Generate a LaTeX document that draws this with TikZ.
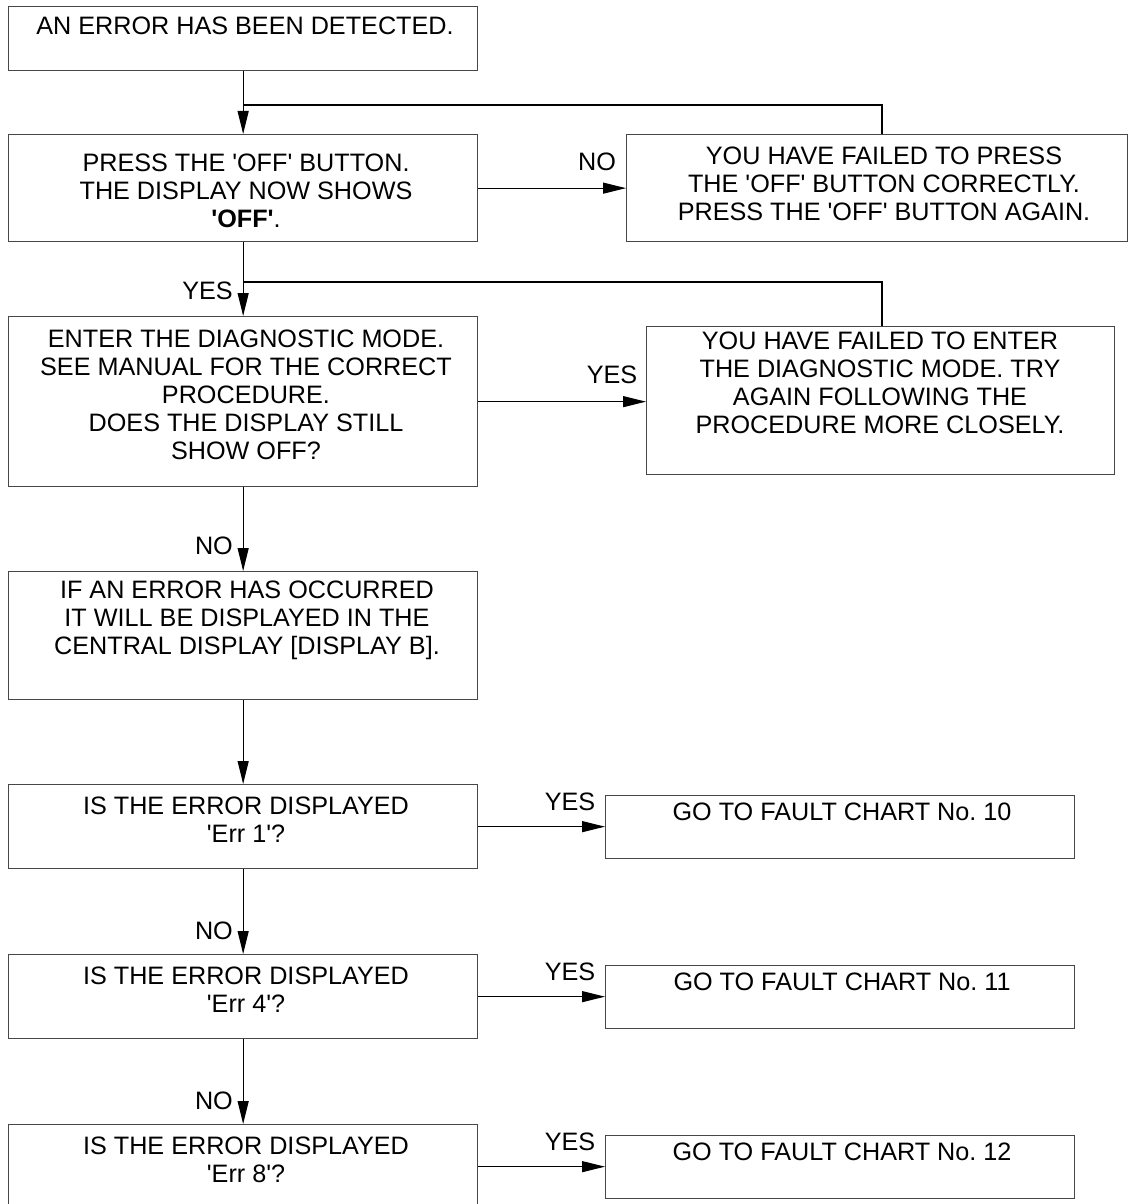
\documentclass[tikz,border=0pt]{standalone}
\usepackage{fontspec}
\newfontfamily\arialf{Liberation Sans}
\usetikzlibrary{arrows.meta,calc}
\frenchspacing
\begin{document}
\begin{tikzpicture}[x=1pt,y=-1pt,
  box/.style={draw=black!72, line width=1.3pt, rectangle, inner sep=0pt, anchor=north west},
  txt/.style={font=\arialf\fontsize{25.2}{28}\selectfont, align=center, inner sep=0pt},
  lbl/.style={font=\arialf\fontsize{25.2}{28}\selectfont, inner sep=0pt},
  conn/.style={line width=1.1pt, draw=black},
  arr/.style={conn, -{Triangle[length=23pt,width=11pt]}},
]
\useasboundingbox[fill=white] (0,0) rectangle (1130,1204);

% boxes
\node[box, minimum width=469pt, minimum height=64pt]  (A) at (8,6) {};
\node[box, minimum width=469pt, minimum height=107pt] (B) at (8,134) {};
\node[box, minimum width=501pt, minimum height=107pt] (C) at (626,134) {};
\node[box, minimum width=469pt, minimum height=170pt] (D) at (8,316) {};
\node[box, minimum width=468pt, minimum height=148pt] (E) at (646,326) {};
\node[box, minimum width=469pt, minimum height=128pt] (F) at (8,571) {};
\node[box, minimum width=469pt, minimum height=84pt]  (G) at (8,784) {};
\node[box, minimum width=469pt, minimum height=63pt]  (H) at (605,795) {};
\node[box, minimum width=469pt, minimum height=84pt]  (I) at (8,954) {};
\node[box, minimum width=469pt, minimum height=63pt]  (J) at (605,965) {};
\node[box, minimum width=469pt, minimum height=84pt]  (K) at (8,1124) {};
\node[box, minimum width=469pt, minimum height=63pt]  (L) at (605,1135) {};

% texts
\node[txt] (At) at (245,26) {AN ERROR HAS BEEN DETECTED.};
\node[txt] (Bt) at (246,191) {PRESS THE 'OFF' BUTTON.\\THE DISPLAY NOW SHOWS\\\textbf{'OFF'}.};
\node[txt] (Ct) at (884,184) {YOU HAVE FAILED TO PRESS\\THE 'OFF' BUTTON CORRECTLY.\\PRESS THE 'OFF' BUTTON AGAIN.};
\node[txt] (Dt) at (246,395) {ENTER THE DIAGNOSTIC MODE.\\SEE MANUAL FOR THE CORRECT\\PROCEDURE.\\DOES THE DISPLAY STILL\\SHOW OFF?};
\node[txt] (Et) at (880,383) {YOU HAVE FAILED TO ENTER\\THE DIAGNOSTIC MODE. TRY\\AGAIN FOLLOWING THE\\PROCEDURE MORE CLOSELY.};
\node[txt] (Ft) at (247,620) {IF AN ERROR HAS OCCURRED\\IT WILL BE DISPLAYED IN THE\\CENTRAL DISPLAY [DISPLAY B].};
\node[txt] (Gt) at (246,820) {IS THE ERROR DISPLAYED\\'Err 1'?};
\node[txt] (Ht) at (842,812) {GO TO FAULT CHART No. 10};
\node[txt] (It) at (246,990) {IS THE ERROR DISPLAYED\\'Err 4'?};
\node[txt] (Jt) at (842,982) {GO TO FAULT CHART No. 11};
\node[txt] (Kt) at (246,1160) {IS THE ERROR DISPLAYED\\'Err 8'?};
\node[txt] (Lt) at (842,1152) {GO TO FAULT CHART No. 12};

% connectors
\coordinate (loopx) at (882,0);
\coordinate (j1) at (242.5,105);
\coordinate (j2) at (242.5,282);
\draw[arr] (A.south) -- (B.north);
\draw[conn] (C.north -| loopx) |- (j1);
\draw[arr] (B.east) -- (B.east -| C.west);
\draw[arr] (B.south) -- (D.north);
\draw[conn] (E.north -| loopx) |- (j2);
\draw[arr] (D.east) -- (D.east -| E.west);
\draw[arr] (D.south) -- (F.north);
\draw[arr] (F.south) -- (G.north);
\draw[arr] (G.east) -- (G.east -| H.west);
\draw[arr] (G.south) -- (I.north);
\draw[arr] (I.east) -- (I.east -| J.west);
\draw[arr] (I.south) -- (K.north);
\draw[arr] (K.east) -- (K.east -| L.west);

% labels
\node[lbl] (l1) at (597,162) {NO};
\node[lbl, anchor=east] (l2) at (233,291) {YES};
\node[lbl] (l3) at (612,375) {YES};
\node[lbl, anchor=east] (l4) at (233,546) {NO};
\node[lbl] (l5) at (570,802) {YES};
\node[lbl, anchor=east] (l6) at (233,931) {NO};
\node[lbl] (l7) at (570,972) {YES};
\node[lbl, anchor=east] (l8) at (233,1101) {NO};
\node[lbl] (l9) at (570,1142) {YES};
\end{tikzpicture}
\end{document}
